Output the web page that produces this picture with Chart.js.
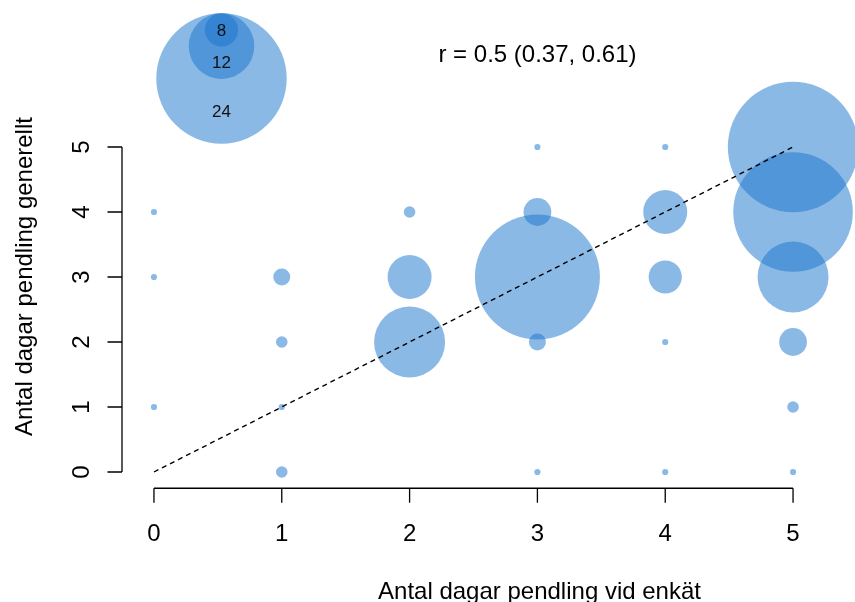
<!DOCTYPE html>
<html><head><meta charset="utf-8">
<script src="https://cdn.jsdelivr.net/npm/chart.js@4/dist/chart.umd.min.js"></script>
<style>html,body{margin:0;padding:0;background:#fff;overflow:hidden}canvas{display:block}</style>
</head><body>
<canvas id="c" width="855" height="602"></canvas>
<script>
// ---- data ----
const enkatDays =     [0,0,0, 1,1,1,1, 2,2,2,  3,3,3,3,3, 4,4,4,4,4, 5,5,5,5,5,5];
const generelltDays = [4,3,1, 3,2,1,0, 4,3,2,  5,4,3,2,0, 5,4,3,2,0, 5,4,3,2,1,0];
const counts =        [1,1,1, 3,2,1,2, 2,8,13, 1,5,23,3,1, 1,8,6,1,1, 24,22,13,5,2,1];
const xTicks = [0,1,2,3,4,5];
const yTicks = [0,1,2,3,4,5];
const refLineX = [0,5];
const refLineY = [0,5];
const legendLabels = ['24','12','8'];
const legendSizes  = [24,12,6];
const corrText = 'r = 0.5 (0.37, 0.61)';
const xTitle = 'Antal dagar pendling vid enkät';
const yTitle = 'Antal dagar pendling generellt';

// ---- styling ----
const FILL = 'rgba(24,116,205,0.5)';
const FONT = '"Liberation Sans", Arial, Helvetica, sans-serif';
const rFor = n => 2.7 * n + 0.4;

const bubbleData = enkatDays.map((x, i) => ({x: x, y: generelltDays[i]}));
const lineData = refLineX.map((x, i) => ({x: x, y: refLineY[i]}));

const rAxesPlugin = {
  id: 'rAxes',
  afterDraw(chart) {
    const ctx = chart.ctx;
    const xs = chart.scales.x, ys = chart.scales.y;
    const area = chart.chartArea;
    ctx.save();
    ctx.strokeStyle = '#000';
    ctx.fillStyle = '#000';
    ctx.lineWidth = 1.3;
    // x axis
    const xAxisY = area.bottom;
    const x0 = xs.getPixelForValue(xTicks[0]), x1 = xs.getPixelForValue(xTicks[xTicks.length-1]);
    ctx.beginPath();
    ctx.moveTo(x0, xAxisY); ctx.lineTo(x1, xAxisY);
    xTicks.forEach(t => { const p = xs.getPixelForValue(t); ctx.moveTo(p, xAxisY); ctx.lineTo(p, xAxisY + 14.5); });
    ctx.stroke();
    ctx.font = '24px ' + FONT;
    ctx.textAlign = 'center';
    ctx.textBaseline = 'alphabetic';
    xTicks.forEach(t => ctx.fillText(String(t), xs.getPixelForValue(t), 541));
    // y axis
    const yAxisX = area.left;
    const y0 = ys.getPixelForValue(yTicks[0]), y1 = ys.getPixelForValue(yTicks[yTicks.length-1]);
    ctx.beginPath();
    ctx.moveTo(yAxisX, y0); ctx.lineTo(yAxisX, y1);
    yTicks.forEach(t => { const p = ys.getPixelForValue(t); ctx.moveTo(yAxisX, p); ctx.lineTo(yAxisX - 14.5, p); });
    ctx.stroke();
    yTicks.forEach(t => {
      ctx.save();
      ctx.translate(89.3, ys.getPixelForValue(t));
      ctx.rotate(-Math.PI/2);
      ctx.fillText(String(t), 0, 0);
      ctx.restore();
    });
    // titles
    ctx.fillText(xTitle, 539.5, 599);
    ctx.save();
    ctx.translate(31.7, 276.5);
    ctx.rotate(-Math.PI/2);
    ctx.fillText(yTitle, 0, 0);
    ctx.restore();
    // correlation text
    ctx.fillText(corrText, 537.5, 61.7);
    // size legend (top-aligned circles)
    const top = 13.3, cx = 221.5;
    ctx.fillStyle = FILL;
    legendSizes.forEach(s => {
      const r = rFor(s);
      ctx.beginPath(); ctx.arc(cx, top + r, r, 0, Math.PI*2); ctx.fill();
    });
    ctx.fillStyle = '#111';
    ctx.font = '17px ' + FONT;
    ctx.textBaseline = 'middle';
    legendSizes.forEach((s, i) => {
      const bottom = top + 2*rFor(s);
      const prevBottom = i < legendSizes.length-1 ? top + 2*rFor(legendSizes[i+1]) : top;
      ctx.fillText(legendLabels[i], cx, (bottom + prevBottom)/2 + 1);
    });
    ctx.restore();
  }
};

new Chart(document.getElementById('c'), {
  data: {
    datasets: [
      {
        type: 'bubble',
        data: bubbleData,
        backgroundColor: FILL,
        borderWidth: 0,
        radius: ctx => rFor(counts[ctx.dataIndex]),
        hoverRadius: 0,
        clip: false,
        order: 2
      },
      {
        type: 'line',
        data: lineData,
        borderColor: '#000',
        borderWidth: 1.4,
        borderDash: [5, 4],
        pointRadius: 0,
        fill: false,
        clip: false,
        order: 1
      }
    ]
  },
  options: {
    responsive: false,
    devicePixelRatio: 1,
    animation: false,
    events: [],
    layout: { autoPadding: false, padding: { left: 122, right: 30, top: 130.75, bottom: 113.75 } },
    scales: {
      x: { type: 'linear', min: -0.25, max: 5.25, display: false },
      y: { type: 'linear', min: -0.25, max: 5.25, display: false }
    },
    plugins: { legend: { display: false }, tooltip: { enabled: false } }
  },
  plugins: [rAxesPlugin]
});
</script>
</body></html>
